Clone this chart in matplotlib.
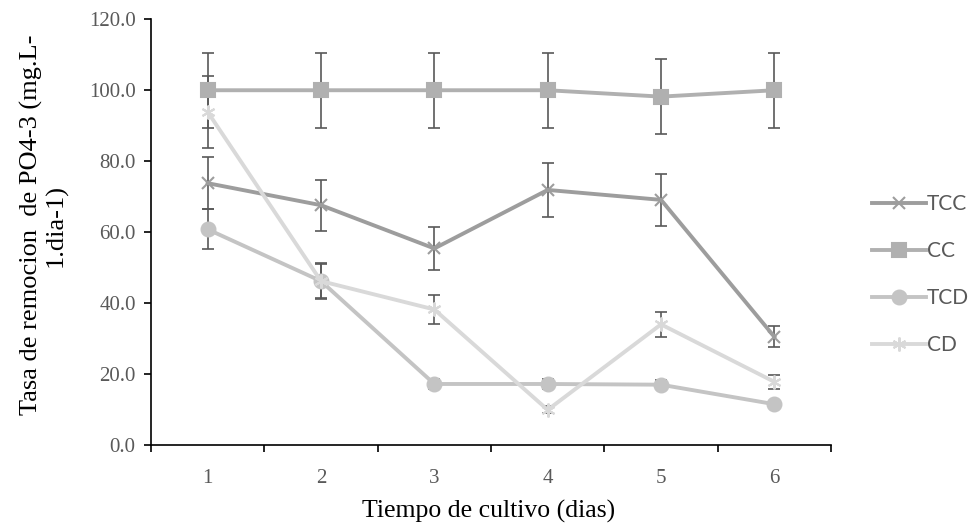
import numpy as np
import matplotlib.pyplot as plt

# Datos por dia de cultivo
dias = [1, 2, 3, 4, 5, 6]

tcc = [73.8, 67.6, 55.4, 71.9, 69.1, 30.5]
tcc_err = [7.4, 7.2, 6.0, 7.7, 7.3, 3.0]

cc = [100.0, 100.0, 100.0, 100.0, 98.2, 100.0]
cc_err = [10.6, 10.6, 10.6, 10.6, 10.6, 10.6]

tcd = [60.8, 46.2, 17.2, 17.2, 17.0, 11.5]
tcd_err = [5.6, 5.0, 1.5, 1.5, 1.2, 0.5]

cd = [93.9, 46.2, 38.2, 9.9, 34.0, 17.8]
cd_err = [10.1, 4.8, 4.0, 1.0, 3.6, 2.0]

series = [
    ('TCC', tcc, tcc_err, '#9d9d9d', 'x', 9),
    ('CC', cc, cc_err, '#b0b0b0', 's', 10),
    ('TCD', tcd, tcd_err, '#c4c4c4', 'o', 10),
    ('CD', cd, cd_err, '#d9d9d9', (6, 2, 0), 10),
]

fig = plt.figure(figsize=(9.72, 5.27), dpi=100)
ax = fig.add_axes([0.1553, 0.1556, 0.6997, 0.8078])

x = np.arange(len(dias))
handles = []
for nombre, vals, err, color, mk, ms in series:
    ax.errorbar(x, vals, yerr=err, fmt='none', ecolor='#595959',
                elinewidth=1.2, capsize=4.5, capthick=1.2, zorder=2)
    h, = ax.plot(x, vals, color=color, lw=2.8, marker=mk, markersize=ms,
                 markeredgecolor=color, markerfacecolor=color,
                 markeredgewidth=1.5, label=nombre, zorder=3)
    handles.append(h)

ax.set_xlim(-0.5, len(dias) - 0.5)
ax.set_ylim(0, 120)
ax.set_yticks(np.arange(0, 121, 20))
ax.set_yticklabels([f'{v:.1f}' for v in np.arange(0, 121, 20)])

# ticks de categoria entre los dias, etiquetas centradas
ax.set_xticks(np.arange(-0.5, len(dias), 1.0))
ax.set_xticklabels([])
ax.set_xticks(x, minor=True)
ax.set_xticklabels([str(d) for d in dias], minor=True)
ax.tick_params(axis='x', which='minor', length=0, pad=17)
ax.tick_params(axis='x', which='major', length=5, width=1.2, direction='out')
ax.tick_params(axis='y', length=5, width=1.2, direction='out', pad=6)

for lab in ax.get_xticklabels(minor=True) + ax.get_yticklabels():
    lab.set_fontfamily('Liberation Serif')
    lab.set_fontsize(15)
    lab.set_color('#595959')

ax.spines['top'].set_visible(False)
ax.spines['right'].set_visible(False)
ax.spines['left'].set_linewidth(1.2)
ax.spines['bottom'].set_linewidth(1.2)

fig.text(0.5026, 0.017, 'Tiempo de cultivo (dias)', ha='center',
         va='baseline', fontfamily='Liberation Serif', fontsize=18.5)
fig.text(0.045, 0.573, 'Tasa de remocion  de PO4-3 (mg.L-\n1.dia-1)',
         rotation=90, ha='center', va='center', multialignment='center',
         fontfamily='Liberation Serif', fontsize=19, linespacing=1.1)

leg = fig.legend(handles=handles, loc='center left',
                 bbox_to_anchor=(0.897, 0.479), frameon=False,
                 prop={'family': 'Lato', 'size': 15}, handlelength=2.6,
                 labelspacing=1.3, handletextpad=0.05, borderpad=0,
                 borderaxespad=0)
for t in leg.get_texts():
    t.set_color('#595959')

fig.savefig('out.png', dpi=100)
